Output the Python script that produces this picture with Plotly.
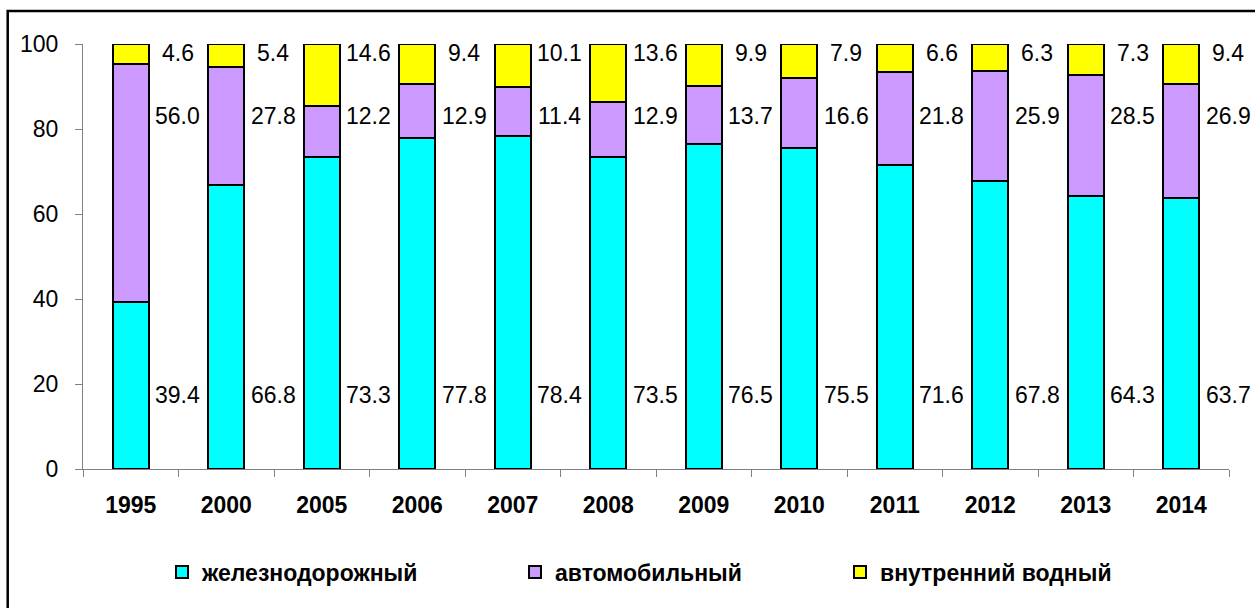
import plotly.graph_objects as go

years = ["1995", "2000", "2005", "2006", "2007", "2008", "2009", "2010", "2011", "2012", "2013", "2014"]
rail = [39.4, 66.8, 73.3, 77.8, 78.4, 73.5, 76.5, 75.5, 71.6, 67.8, 64.3, 63.7]
auto = [56.0, 27.8, 12.2, 12.9, 11.4, 12.9, 13.7, 16.6, 21.8, 25.9, 28.5, 26.9]
water = [4.6, 5.4, 14.6, 9.4, 10.1, 13.6, 9.9, 7.9, 6.6, 6.3, 7.3, 9.4]
names = ["железнодорожный", "автомобильный", "внутренний водный"]
colors = ["#00FFFF", "#CC99FF", "#FFFF00"]

FONT = "Liberation Sans, Arial, sans-serif"

# plot area in page pixels (body margin removed via post_script)
L, T = 83, 44
pw, ph = 1146, 425
W, H = 1255, 608
R = W - L - pw
B = H - T - ph

legend_ids = ["legend", "legend2", "legend3"]
legend_text_x = [202, 555, 880]  # page px where legend text starts

fig = go.Figure()
for vals, name, col, lid in zip([rail, auto, water], names, colors, legend_ids):
    fig.add_trace(go.Bar(
        x=years, y=vals, name=name, legend=lid,
        marker=dict(color=col, line=dict(color="black", width=2)),
    ))

# label heights (fixed rows as in the original)
label_rows = [17.4, 83.0, 97.8]
annotations = []
for vals, ly in zip([rail, auto, water], label_rows):
    for i, v in enumerate(vals):
        annotations.append(dict(
            x=i, y=ly, xref="x", yref="y", text=f"{v:.1f}",
            showarrow=False, xanchor="center", yanchor="middle", xshift=47,
            font=dict(family=FONT, size=23, color="black"),
        ))

legend_common = dict(
    orientation="h", xanchor="left", y=(469 - 572) / ph, yanchor="middle",
    font=dict(family=FONT, size=23, color="black", weight="bold"),
    bgcolor="rgba(0,0,0,0)",
)
layout_legends = {}
for lid, tx in zip(legend_ids, legend_text_x):
    layout_legends[lid] = dict(legend_common, x=(tx - 40 - L) / pw)

fig.update_layout(
    width=W, height=H,
    margin=dict(l=L, r=R, t=T, b=B),
    barmode="stack", bargap=0.623,
    plot_bgcolor="white", paper_bgcolor="white",
    font=dict(family=FONT, color="black"),
    annotations=annotations,
    showlegend=True,
    shapes=[dict(
        type="rect", xref="paper", yref="paper",
        x0=(7.7 - L) / pw, x1=(1275 - L) / pw,
        y0=(469 - 640) / ph, y1=(469 - 11) / ph,
        line=dict(color="black", width=2.5), fillcolor="rgba(0,0,0,0)",
    )],
    **layout_legends,
)
fig.update_yaxes(
    range=[0, 100], tickvals=[0, 20, 40, 60, 80, 100],
    showgrid=False, zeroline=False,
    showline=True, linecolor="#808080", linewidth=1,
    ticks="outside", ticklen=7, tickcolor="#808080",
    tickfont=dict(family=FONT, size=23, color="black"),
    ticklabelstandoff=12,
)
fig.update_xaxes(
    type="category", range=[-0.5, len(years) - 0.5],
    showgrid=False, showline=True, linecolor="#808080", linewidth=1,
    ticks="outside", ticklen=7, tickcolor="#808080", tickson="boundaries",
    tickfont=dict(family=FONT, size=23, color="black", weight="bold"),
    ticklabelstandoff=15,
)

fig.write_html(
    "out.html",
    config={"displayModeBar": False},
    post_script="document.body.style.margin='0';document.body.style.overflow='hidden';",
)
